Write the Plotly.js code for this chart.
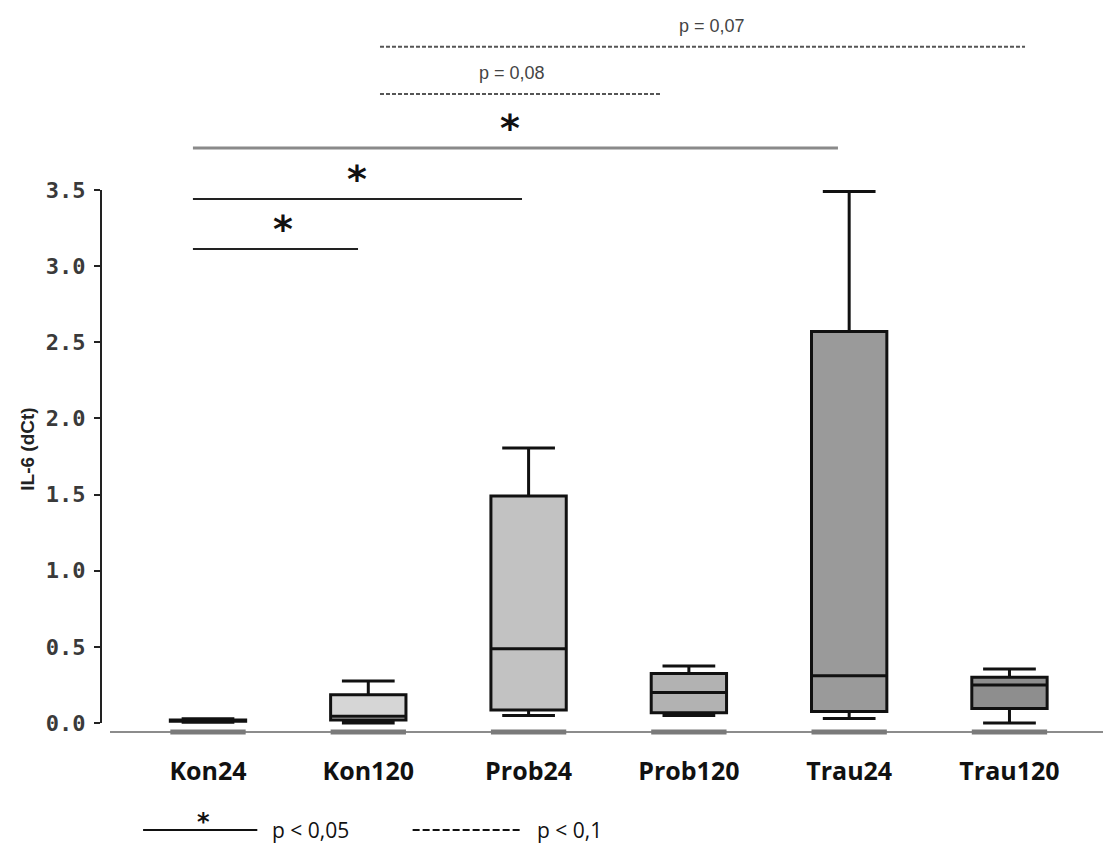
<!DOCTYPE html>
<html>
<head>
<meta charset="utf-8">
<script src="https://cdn.plot.ly/plotly-3.0.1.min.js"></script>
<style>
  html, body { margin: 0; padding: 0; background: #ffffff; }
  #chart { width: 1103px; height: 845px; }
</style>
</head>
<body>
<div id="chart"></div>
<script>
// IL-6 expression (dCt) per group, as box summaries
const categories = ['Kon24', 'Kon120', 'Prob24', 'Prob120', 'Trau24', 'Trau120'];
const lowerWhisker = [0.005, 0.0, 0.05, 0.05, 0.03, 0.0];
const q1Values = [0.012, 0.02, 0.085, 0.068, 0.075, 0.095];
const medianValues = [0.016, 0.045, 0.487, 0.20, 0.31, 0.25];
const q3Values = [0.02, 0.185, 1.49, 0.325, 2.57, 0.30];
const upperWhisker = [0.028, 0.275, 1.805, 0.375, 3.49, 0.355];
const boxFills = ['#000000', '#d6d6d6', '#c2c2c2', '#b2b2b2', '#9a9a9a', '#8e8e8e'];

// y-axis ticks
const yTickValues = [0, 0.5, 1.0, 1.5, 2.0, 2.5, 3.0, 3.5];
const yTickLabels = ['0.0', '0.5', '1.0', '1.5', '2.0', '2.5', '3.0', '3.5'];

// pairwise comparisons: bar span, bar height, label, label position, style
const compFrom = [-0.094, -0.094, -0.094, 1.073, 1.073];
const compTo = [0.936, 1.959, 3.930, 2.826, 5.097];
const compLevel = [3.112, 3.44, 3.775, 4.13, 4.44];
const compLabel = ['*', '*', '*', 'p = 0,08', 'p = 0,07'];
const compLabelX = [0.468, 0.930, 1.884, 1.896, 3.144];
const compStyle = ['solid', 'solid', 'grey', 'dash', 'dash'];

const baselineValue = -0.059;
const boxWidth = 0.47;

const traces = categories.map((cat, i) => ({
  type: 'box',
  name: cat,
  x: [cat],
  q1: [q1Values[i]],
  median: [medianValues[i]],
  q3: [q3Values[i]],
  lowerfence: [lowerWhisker[i]],
  upperfence: [upperWhisker[i]],
  boxpoints: false,
  width: boxWidth,
  whiskerwidth: 0.7,
  fillcolor: boxFills[i],
  line: { color: '#111111', width: 3 },
  hoverinfo: 'skip',
  showlegend: false
}));

const shapes = [];
const annotations = [];

// y-axis spine from 0 to 3.5
shapes.push({
  type: 'line', xref: 'paper', yref: 'y',
  x0: 0, x1: 0, y0: 0, y1: 3.5,
  line: { color: '#222222', width: 2 }
});

// grey baseline running below the boxes
shapes.push({
  type: 'line', xref: 'paper', yref: 'y',
  x0: 0.009, x1: 1, y0: baselineValue, y1: baselineValue,
  line: { color: '#8c8c8c', width: 2 }
});

// grey footing under each group
categories.forEach((cat, i) => {
  shapes.push({
    type: 'line', xref: 'x', yref: 'y',
    x0: i - boxWidth / 2, x1: i + boxWidth / 2,
    y0: baselineValue, y1: baselineValue,
    line: { color: '#7a7a7a', width: 5 }
  });
});

// comparison bars and their labels
compFrom.forEach((x0, k) => {
  const style = compStyle[k];
  shapes.push({
    type: 'line', xref: 'x', yref: 'y',
    x0: x0, x1: compTo[k], y0: compLevel[k], y1: compLevel[k],
    line: {
      color: style === 'grey' ? '#8a8a8a' : (style === 'dash' ? '#555555' : '#222222'),
      width: style === 'grey' ? 3 : 2,
      dash: style === 'dash' ? '4px,2px' : 'solid'
    }
  });
  const isStar = compLabel[k] === '*';
  annotations.push({
    xref: 'x', yref: 'y',
    x: compLabelX[k], y: compLevel[k],
    text: compLabel[k],
    showarrow: false,
    xanchor: 'center', yanchor: 'bottom',
    yshift: isStar ? -4 : 9,
    font: isStar
      ? { family: 'DejaVu Sans, sans-serif', size: 38, color: '#111111', weight: 'bold' }
      : { family: 'Liberation Sans Narrow, Liberation Sans, Arial, sans-serif', size: 18, color: '#444444' }
  });
});

// y-axis title
annotations.push({
  xref: 'paper', yref: 'y',
  x: -0.073, y: 1.8,
  text: 'IL-6 (dCt)',
  textangle: -90,
  showarrow: false,
  xanchor: 'center', yanchor: 'middle',
  font: { family: 'Liberation Sans, Arial, sans-serif', size: 19, color: '#222222', weight: 'bold' }
});

// key for the comparison markers
shapes.push({
  type: 'line', xref: 'paper', yref: 'paper',
  x0: 0.042, x1: 0.156, y0: -0.114, y1: -0.114,
  line: { color: '#111111', width: 2 }
});
shapes.push({
  type: 'line', xref: 'paper', yref: 'paper',
  x0: 0.311, x1: 0.418, y0: -0.114, y1: -0.114,
  line: { color: '#111111', width: 2, dash: '7px,3px' }
});
annotations.push({
  xref: 'paper', yref: 'paper', x: 0.102, y: -0.114,
  text: '*', showarrow: false, xanchor: 'center', yanchor: 'bottom',
  yshift: -8,
  font: { family: 'DejaVu Sans, sans-serif', size: 24, color: '#111111', weight: 'bold' }
});
annotations.push({
  xref: 'paper', yref: 'paper', x: 0.1687, y: -0.114,
  text: 'p < 0,05', showarrow: false, xanchor: 'left', yanchor: 'middle',
  font: { family: 'Open Sans, sans-serif', size: 21, color: '#111111' }
});
annotations.push({
  xref: 'paper', yref: 'paper', x: 0.433, y: -0.114,
  text: 'p < 0,1', showarrow: false, xanchor: 'left', yanchor: 'middle',
  font: { family: 'Open Sans, sans-serif', size: 21, color: '#111111' }
});

const layout = {
  width: 1103,
  height: 845,
  margin: { l: 101, r: 0, t: 0, b: 100 },
  paper_bgcolor: '#ffffff',
  plot_bgcolor: '#ffffff',
  boxmode: 'overlay',
  showlegend: false,
  xaxis: {
    type: 'category',
    categoryorder: 'array',
    categoryarray: categories,
    range: [-0.6675, 5.5835],
    showgrid: false,
    zeroline: false,
    showline: false,
    ticks: '',
    ticklabelstandoff: 9,
    tickfont: { family: 'Open Sans, sans-serif', size: 25, color: '#111111', weight: 'bold' },
    fixedrange: true
  },
  yaxis: {
    range: [-0.1445, 4.747],
    tickvals: yTickValues,
    ticktext: yTickLabels,
    showgrid: false,
    zeroline: false,
    showline: false,
    ticks: 'outside',
    ticklen: 6,
    tickwidth: 2,
    tickcolor: '#222222',
    ticklabelstandoff: 4,
    tickfont: { family: 'DejaVu Sans Mono, monospace', size: 22, color: '#3a3a3a', weight: 'bold' },
    fixedrange: true
  },
  shapes: shapes,
  annotations: annotations
};

Plotly.newPlot('chart', traces, layout, { displayModeBar: false, staticPlot: true });
</script>
</body>
</html>
